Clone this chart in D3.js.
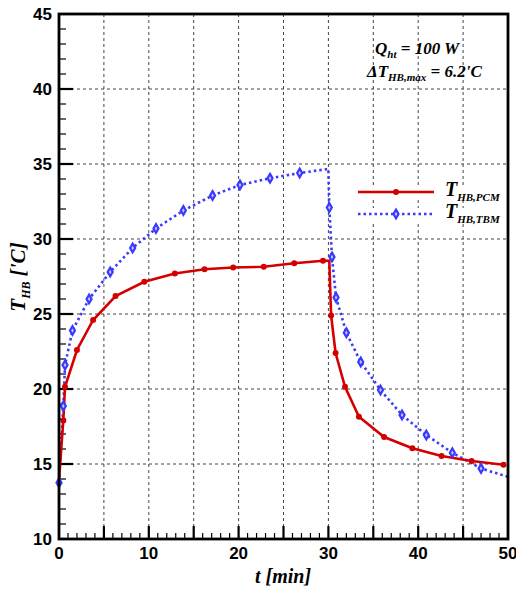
<!DOCTYPE html>
<html>
<head>
<meta charset="utf-8">
<script src="https://cdn.jsdelivr.net/npm/d3@7"></script>
<style>
  body { margin: 0; background: #fff; }
  svg { display: block; }
  .tick-label { font-family: "Liberation Sans", Arial, sans-serif; font-weight: bold; font-size: 17px; }
  .serif { font-family: "Liberation Serif", "Times New Roman", serif; font-weight: bold; font-style: italic; }
</style>
</head>
<body>
<div id="container"></div>
<script>
// time [min] and temperature ['C] for the PCM heat battery
const pcmTime = [0, 0.25, 0.48, 0.67, 2.0, 3.8, 6.3, 9.5, 12.9, 16.2, 19.4, 22.8, 26.2, 29.4, 30.1, 30.3, 30.8, 31.85, 33.4, 36.2, 39.35, 42.6, 45.95, 49.5]
const pcmTemp = [13.9, 16.0, 17.9, 20.15, 22.6, 24.6, 26.2, 27.15, 27.7, 27.98, 28.1, 28.15, 28.38, 28.55, 28.55, 24.9, 22.4, 20.15, 18.15, 16.8, 16.05, 15.53, 15.2, 14.95]
const pcmMarker = [0, 0, 1, 1, 1, 1, 1, 1, 1, 1, 1, 1, 1, 1, 0, 1, 1, 1, 1, 1, 1, 1, 1, 1]

// time [min] and temperature ['C] for the TBM heat battery
const tbmTime = [0, 0.48, 0.67, 1.5, 3.35, 5.7, 8.2, 10.8, 13.85, 17.1, 20.15, 23.5, 26.8, 30.0, 30.1, 30.4, 30.85, 32.0, 33.6, 35.8, 38.2, 40.9, 43.8, 47.0, 50]
const tbmTemp = [13.75, 18.87, 21.6, 23.9, 26.0, 27.8, 29.4, 30.7, 31.9, 32.9, 33.6, 34.05, 34.4, 34.67, 32.1, 28.8, 26.1, 23.75, 21.8, 19.93, 18.27, 16.93, 15.75, 14.7, 14.15]
const tbmMarker = [1, 1, 1, 1, 1, 1, 1, 1, 1, 1, 1, 1, 1, 0, 1, 1, 1, 1, 1, 1, 1, 1, 1, 1, 0]

const xTicks = [0, 10, 20, 30, 40, 50]
const yTicks = [10, 15, 20, 25, 30, 35, 40, 45]

const width = 516
const height = 589
const padLeft = 59, padRight = 508, padTop = 14, padBottom = 539

const red = '#d40000'
const blue = '#3a3aff'

const svg = d3.select('#container')
  .append('svg')
  .attr('width', width)
  .attr('height', height)

const scaleX = d3.scaleLinear().domain([0, 50]).range([padLeft, padRight])
const scaleY = d3.scaleLinear().domain([10, 45]).range([padBottom, padTop])

// dashed grid every 5
svg.append('g')
  .selectAll('line')
  .data(d3.range(5, 50, 5))
  .enter()
  .append('line')
  .attr('x1', d => scaleX(d)).attr('x2', d => scaleX(d))
  .attr('y1', padTop).attr('y2', padBottom)
  .attr('stroke', '#444').attr('stroke-width', 1).attr('stroke-dasharray', '3,3')

svg.append('g')
  .selectAll('line')
  .data(d3.range(15, 45, 5))
  .enter()
  .append('line')
  .attr('y1', d => scaleY(d)).attr('y2', d => scaleY(d))
  .attr('x1', padLeft).attr('x2', padRight)
  .attr('stroke', '#444').attr('stroke-width', 1).attr('stroke-dasharray', '3,3')

// inner ticks
const xMinor = d3.range(1, 50, 1)
svg.append('g')
  .selectAll('line')
  .data(xMinor)
  .enter()
  .append('line')
  .attr('x1', d => scaleX(d)).attr('x2', d => scaleX(d))
  .attr('y1', padBottom).attr('y2', d => padBottom - (d % 5 === 0 ? 13 : 6))
  .attr('stroke', '#000').attr('stroke-width', d => d % 5 === 0 ? 2.2 : 1.2)

const yMinor = d3.range(11, 45, 1)
svg.append('g')
  .selectAll('line')
  .data(yMinor)
  .enter()
  .append('line')
  .attr('y1', d => scaleY(d)).attr('y2', d => scaleY(d))
  .attr('x1', padLeft).attr('x2', d => padLeft + (d % 5 === 0 ? 14 : 7))
  .attr('stroke', '#000').attr('stroke-width', d => d % 5 === 0 ? 2.2 : 1.2)

// tick labels
svg.append('g')
  .selectAll('text')
  .data(xTicks)
  .enter()
  .append('text')
  .attr('class', 'tick-label')
  .attr('x', d => scaleX(d))
  .attr('y', 559)
  .attr('text-anchor', 'middle')
  .text(d => d)

svg.append('g')
  .selectAll('text')
  .data(yTicks)
  .enter()
  .append('text')
  .attr('class', 'tick-label')
  .attr('x', 52)
  .attr('y', d => scaleY(d) + 6)
  .attr('text-anchor', 'end')
  .text(d => d)

// curves
const line = d3.line().x(d => scaleX(d[0])).y(d => scaleY(d[1]))
const pcm = pcmTime.map((t, i) => [t, pcmTemp[i], pcmMarker[i]])
const tbm = tbmTime.map((t, i) => [t, tbmTemp[i], tbmMarker[i]])

svg.append('path')
  .datum(tbm)
  .attr('d', line)
  .attr('fill', 'none')
  .attr('stroke', blue)
  .attr('stroke-width', 2.6)
  .attr('stroke-dasharray', '2.5,3')

svg.append('path')
  .datum(pcm)
  .attr('d', line)
  .attr('fill', 'none')
  .attr('stroke', red)
  .attr('stroke-width', 2.6)

const diamond = d3.symbol().type(d3.symbolDiamond).size(22)

svg.append('g')
  .selectAll('path')
  .data(tbm.filter(d => d[2]))
  .enter()
  .append('path')
  .attr('d', diamond)
  .attr('transform', d => `translate(${scaleX(d[0])},${scaleY(d[1])})`)
  .attr('fill', '#c8c8ff')
  .attr('stroke', blue)
  .attr('stroke-width', 2.2)

svg.append('g')
  .selectAll('circle')
  .data(pcm.filter(d => d[2]))
  .enter()
  .append('circle')
  .attr('cx', d => scaleX(d[0]))
  .attr('cy', d => scaleY(d[1]))
  .attr('r', 3)
  .attr('fill', red)

// frame
svg.append('rect')
  .attr('x', padLeft).attr('y', padTop)
  .attr('width', padRight - padLeft).attr('height', padBottom - padTop)
  .attr('fill', 'none')
  .attr('stroke', '#000')
  .attr('stroke-width', 2.8)

// annotation
const note = svg.append('g').attr('class', 'serif').attr('fill', '#000')
const q = note.append('text').attr('x', 375).attr('y', 54).attr('font-size', 17)
q.append('tspan').text('Q')
q.append('tspan').attr('font-size', 11).attr('dy', 4).text('ht')
q.append('tspan').attr('dy', -4).text(' = 100 W')

const dt = note.append('text').attr('x', 367).attr('y', 77).attr('font-size', 17)
dt.append('tspan').text('\u0394T')
dt.append('tspan').attr('font-size', 11).attr('dy', 4).text('HB,max')
dt.append('tspan').attr('dy', -4).text(' = 6.2\'C')

// legend
const legend = [
  { label: 'PCM', color: red, y: 192, dash: null },
  { label: 'TBM', color: blue, y: 214, dash: '2.5,3' }
]
const lg = svg.append('g')
legend.forEach(d => {
  lg.append('rect').attr('x', 356).attr('y', d.y - 6).attr('width', 150).attr('height', 14).attr('fill', '#fff')
  lg.append('line')
    .attr('x1', 358).attr('x2', 434).attr('y1', d.y).attr('y2', d.y)
    .attr('stroke', d.color).attr('stroke-width', 2.6)
    .attr('stroke-dasharray', d.dash)
  if (d.label === 'PCM') {
    lg.append('circle').attr('cx', 396).attr('cy', d.y).attr('r', 3).attr('fill', red)
  } else {
    lg.append('path').attr('d', diamond).attr('transform', `translate(396,${d.y})`)
      .attr('fill', '#c8c8ff').attr('stroke', blue).attr('stroke-width', 2.2)
  }
  const t = lg.append('text').attr('class', 'serif').attr('x', 445).attr('y', d.y + 4).attr('font-size', 20)
  t.append('tspan').text('T')
  t.append('tspan').attr('font-size', 11).attr('dy', 5).text('HB,' + d.label)
})

// axis titles
const xt = svg.append('text').attr('class', 'serif').attr('x', 283).attr('y', 583)
  .attr('text-anchor', 'middle').attr('font-size', 20)
xt.append('tspan').text('t [min]')

const yt = svg.append('text').attr('class', 'serif')
  .attr('transform', 'translate(25,277) rotate(-90)')
  .attr('text-anchor', 'middle').attr('font-size', 21)
yt.append('tspan').text('T')
yt.append('tspan').attr('font-size', 12).attr('dy', 5).text('HB')
yt.append('tspan').attr('dy', -5).text(' [\'C]')
</script>
</body>
</html>
